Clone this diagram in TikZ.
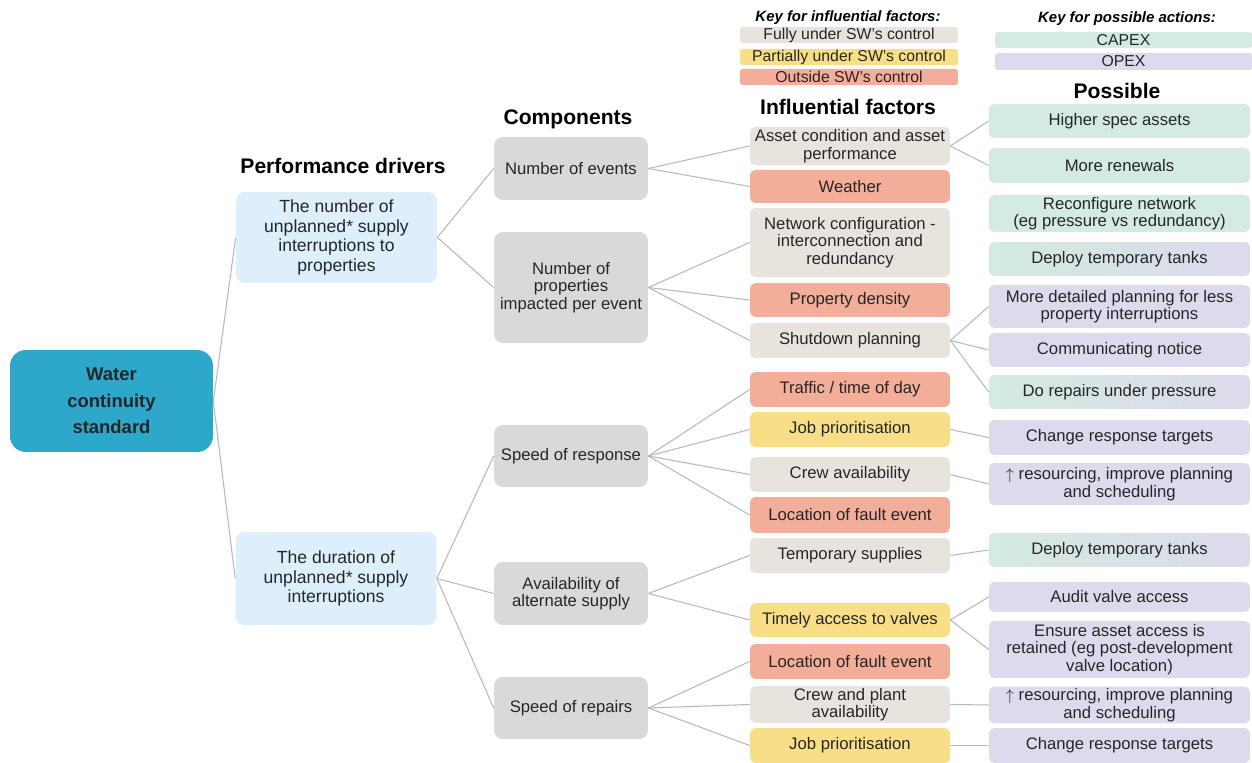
\documentclass[tikz,border=0pt]{standalone}
\usepackage{fontspec}
\setmainfont{Liberation Sans}

\definecolor{ink}{HTML}{262626}
\definecolor{rootc}{HTML}{2EA8CA}
\definecolor{drvc}{HTML}{DCEFFB}
\definecolor{compc}{HTML}{D9D9D9}
\definecolor{fullc}{HTML}{E9E3DD}
\definecolor{partc}{HTML}{F8DF87}
\definecolor{outc}{HTML}{F2AE98}
\definecolor{capexc}{HTML}{D3EBE0}
\definecolor{opexc}{HTML}{DCDAEC}
\definecolor{linec}{HTML}{B8B8B8}

\begin{document}
\begin{tikzpicture}[
    x=0.02cm, y=-0.02cm,
    txt/.style={font=\fontsize{9.5}{10}\selectfont, text=ink, align=center, inner sep=1pt},
    box/.style={txt, rectangle, rounded corners=3pt, fill=#1},
    drv/.style={box=drvc, rounded corners=5pt, minimum width=4.02cm,
        font=\fontsize{10}{11.2}\selectfont},
    comp/.style={box=compc, rounded corners=5pt, minimum width=3.08cm},
    fac/.style={box=#1, minimum width=4cm, minimum height=0.7cm},
    act/.style={box=#1, minimum width=5.22cm, minimum height=0.68cm},
    keybox/.style={box=#1, rounded corners=1.5pt, inner sep=0pt,
        font=\fontsize{9}{10}\selectfont},
    head/.style={font=\fontsize{12}{14}\selectfont\bfseries, text=black, inner sep=0pt},
    keyhead/.style={font=\fontsize{8.5}{10}\selectfont\bfseries\itshape, text=black, inner sep=0pt},
    link/.style={draw=linec, line width=0.6pt}
]

\useasboundingbox (0,0) rectangle (1252,763);

% keys
\node[keyhead] (khfac) at (848,18) {Key for influential factors:};
\node[keybox=fullc, minimum width=4.36cm, minimum height=0.32cm] (kfull) at (849,35) {Fully under SW's control};
\node[keybox=partc, minimum width=4.36cm, minimum height=0.32cm] (kpart) at (849,57) {Partially under SW's control};
\node[keybox=outc, minimum width=4.36cm, minimum height=0.32cm] (kout) at (849,77) {Outside SW's control};

\node[keyhead] (khact) at (1127,19) {Key for possible actions:};
\node[keybox=capexc, minimum width=5.14cm, minimum height=0.32cm] (kcapex) at (1123.5,40) {CAPEX};
\node[keybox=opexc, minimum width=5.14cm, minimum height=0.34cm] (kopex) at (1123.5,61.5) {OPEX};

% column titles
\node[head] (hdrv) at (343,166) {Performance drivers};
\node[head] (hcomp) at (568,119) {Components};
\node[head] (hfac) at (848,107) {Influential factors};
\node[head] (hact) at (1117,91) {Possible};

% standard and drivers
\node[box=rootc, rounded corners=9pt, minimum width=4.06cm, minimum height=2.04cm,
    font=\fontsize{10.5}{15}\selectfont\bfseries, text=ink] (root) at (111.5,401) {Water\\continuity\\standard};

\node[drv, minimum height=1.82cm] (drvnum) at (336.5,237.5) {The number of\\unplanned* supply\\interruptions to\\properties};
\node[drv, minimum height=1.86cm] (drvdur) at (336,578.5) {The duration of\\unplanned* supply\\interruptions};

% components
\node[comp, minimum height=1.26cm] (events) at (571,168.5) {Number of events};
\node[comp, minimum height=2.22cm] (impact) at (571,287.5) {Number of\\properties\\impacted per event};
\node[comp, minimum height=1.24cm] (response) at (571,456) {Speed of response};
\node[comp, minimum height=1.26cm] (altsup) at (571,593.5) {Availability of\\alternate supply};
\node[comp, minimum height=1.24cm] (repairs) at (571,708) {Speed of repairs};

% influential factors
\node[fac=fullc, minimum height=0.76cm] (asset) at (850,146) {Asset condition and asset\\performance};
\node[fac=outc, minimum height=0.66cm] (weather) at (850,186.5) {Weather};
\node[fac=fullc, minimum height=1.38cm] (network) at (850,242.5) {Network configuration -\\interconnection and\\redundancy};
\node[fac=outc, minimum height=0.68cm] (density) at (850,300) {Property density};
\node[fac=fullc] (shutdown) at (850,340.5) {Shutdown planning};
\node[fac=outc] (traffic) at (850,389.5) {Traffic / time of day};
\node[fac=partc] (jobA) at (850,429.5) {Job prioritisation};
\node[fac=fullc] (crewA) at (850,474.5) {Crew availability};
\node[fac=outc, minimum height=0.72cm] (faultA) at (850,515) {Location of fault event};
\node[fac=fullc] (tempsup) at (850,555.5) {Temporary supplies};
\node[fac=partc, minimum height=0.68cm] (valves) at (850,620) {Timely access to valves};
\node[fac=outc] (faultB) at (850,661.5) {Location of fault event};
\node[fac=fullc] (crewB) at (850,704.5) {Crew and plant\\availability};
\node[fac=partc] (jobB) at (850,745.5) {Job prioritisation};

% possible actions
\node[act=capexc] (hispec) at (1119.5,121) {Higher spec assets};
\node[act=capexc, minimum height=0.7cm] (renew) at (1119.5,165.5) {More renewals};
\node[act=capexc, minimum height=0.74cm] (reconf) at (1119.5,213.5) {Reconfigure network\\(eg pressure vs redundancy)};
\node[act=capexc, left color=capexc, right color=opexc] (tanksA) at (1119.5,259) {Deploy temporary tanks};
\node[act=opexc, minimum height=0.86cm] (detplan) at (1119.5,306.5) {More detailed planning for less\\property interruptions};
\node[act=opexc] (notice) at (1119.5,350) {Communicating notice};
\node[act=capexc, left color=capexc, right color=opexc] (underp) at (1119.5,392) {Do repairs under pressure};
\node[act=opexc, minimum height=0.7cm] (targetsA) at (1119.5,437.5) {Change response targets};
\node[act=opexc, minimum height=0.84cm] (resA) at (1119.5,484) {$\uparrow$ resourcing, improve planning\\and scheduling};
\node[act=capexc, left color=capexc, right color=opexc] (tanksB) at (1119.5,550) {Deploy temporary tanks};
\node[act=opexc, minimum height=0.6cm] (audit) at (1119.5,597) {Audit valve access};
\node[act=opexc, minimum height=1.14cm] (ensure) at (1119.5,649.5) {Ensure asset access is\\retained (eg post-development\\valve location)};
\node[act=opexc, minimum height=0.72cm] (resB) at (1119.5,705) {$\uparrow$ resourcing, improve planning\\and scheduling};
\node[act=opexc, minimum height=0.7cm] (targetsB) at (1119.5,745.5) {Change response targets};

% tree links
\draw[link] (root.east) -- (drvnum.west);
\draw[link] (root.east) -- (drvdur.west);

\draw[link] (drvnum.east) -- (events.west);
\draw[link] (drvnum.east) -- (impact.west);
\draw[link] (drvdur.east) -- (response.west);
\draw[link] (drvdur.east) -- (altsup.west);
\draw[link] (drvdur.east) -- (repairs.west);

\draw[link] (events.east) -- (asset.west);
\draw[link] (events.east) -- (weather.west);
\draw[link] (impact.east) -- (network.west);
\draw[link] (impact.east) -- (density.west);
\draw[link] (impact.east) -- (shutdown.west);
\draw[link] (response.east) -- (traffic.west);
\draw[link] (response.east) -- (jobA.west);
\draw[link] (response.east) -- (crewA.west);
\draw[link] (response.east) -- (faultA.west);
\draw[link] (altsup.east) -- (tempsup.west);
\draw[link] (altsup.east) -- (valves.west);
\draw[link] (repairs.east) -- (faultB.west);
\draw[link] (repairs.east) -- (crewB.west);
\draw[link] (repairs.east) -- (jobB.west);

\draw[link] (asset.east) -- (hispec.west);
\draw[link] (asset.east) -- (renew.west);
\draw[link] (shutdown.east) -- (detplan.west);
\draw[link] (shutdown.east) -- (notice.west);
\draw[link] (shutdown.east) -- (underp.west);
\draw[link] (jobA.east) -- (targetsA.west);
\draw[link] (crewA.east) -- (resA.west);
\draw[link] (tempsup.east) -- (tanksB.west);
\draw[link] (valves.east) -- (audit.west);
\draw[link] (valves.east) -- (ensure.west);
\draw[link] (crewB.east) -- (resB.west);
\draw[link] (jobB.east) -- (targetsB.west);

\end{tikzpicture}
\end{document}
